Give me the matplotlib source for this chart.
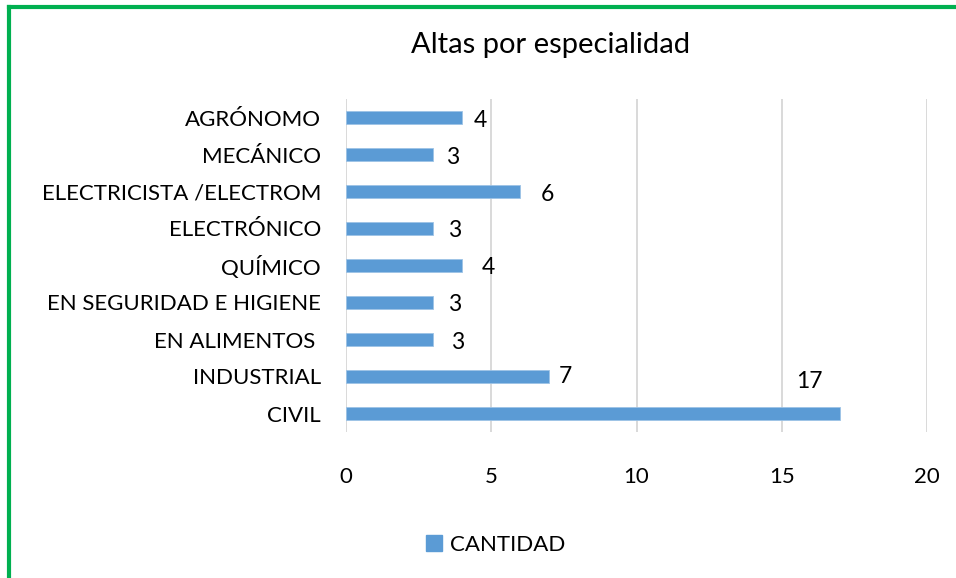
import matplotlib.pyplot as plt
from matplotlib.lines import Line2D

# data (bottom to top as drawn)
especialidades = ["CIVIL", "INDUSTRIAL", "EN ALIMENTOS ", "EN SEGURIDAD E HIGIENE",
                  "QUÍMICO", "ELECTRÓNICO", "ELECTRICISTA /ELECTROM", "MECÁNICO", "AGRÓNOMO"]
cantidad = [17, 7, 3, 3, 4, 3, 6, 3, 4]
ticks_x = [0, 5, 10, 15, 20]

# label offsets in pixels (labels were moved by hand in the original)
label_offsets = [(-30, 32), (16, 0), (24, -3), (21, -2), (26, -2), (21, -2), (27, -3), (19, -3), (18, -3)]

plt.rcParams['font.family'] = ['Lato', 'DejaVu Sans']
blue = '#5B9BD5'

fig = plt.figure(figsize=(9.56, 5.78), dpi=100)
ax = fig.add_axes([346/956, 1 - 432/578, (927 - 346)/956, (432 - 99)/578])

ypos = list(range(len(especialidades)))
ax.barh(ypos, cantidad, height=0.33, color=blue, edgecolor='#9DC3E6', linewidth=0.6, zorder=3)

for y, v, off in zip(ypos, cantidad, label_offsets):
    ax.annotate(str(v), (v, y), xytext=off, textcoords='offset pixels',
                ha='center', va='center', fontsize=16.5, color='black')

ax.set_xlim(0, 20)
ax.set_ylim(-0.5, len(especialidades) - 0.5)
ax.set_xticks(ticks_x)
ax.set_yticks(ypos)
ax.set_yticklabels(especialidades)
ax.tick_params(axis='x', length=0, pad=25, labelsize=16)
ax.tick_params(axis='y', length=0, pad=18, labelsize=16)
ax.grid(axis='x', color='#D9D9D9', linewidth=1.4, zorder=0)
for s in ax.spines.values():
    s.set_visible(False)

fig.text(551/956, 1 - 45/578, "Altas por especialidad", ha='center', va='center', fontsize=21)

handle = Line2D([], [], marker='s', linestyle='none', markersize=11, color=blue)
fig.legend([handle], ["CANTIDAD"], loc='center', bbox_to_anchor=(494/956, 1 - 545/578),
           frameon=False, fontsize=16, handletextpad=0.2, handlelength=1.0)

# green frame (top and left edges)
fig.add_artist(Line2D([9/956, 1], [1 - 7/578, 1 - 7/578], color='#00B050', linewidth=3, transform=fig.transFigure))
fig.add_artist(Line2D([9/956, 9/956], [0, 1 - 7/578], color='#00B050', linewidth=3, transform=fig.transFigure))

fig.savefig("out.png", dpi=100)
